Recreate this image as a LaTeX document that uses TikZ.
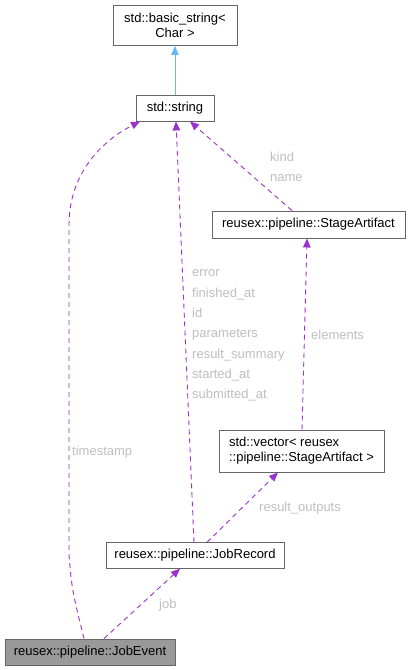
\documentclass[tikz,border=0pt]{standalone}
\usepackage{fontspec}
\setmainfont{Liberation Sans}
\usetikzlibrary{arrows.meta}
\definecolor{edgepurple}{HTML}{9A32CD}
\definecolor{edgeblue}{HTML}{63B8FF}
\definecolor{boxgray}{HTML}{666666}
\definecolor{lblgray}{HTML}{BFBFBF}
\definecolor{fillgray}{HTML}{999999}
\tikzset{
  x=1pt,y=1pt,
  cls/.style={draw=boxgray, line width=0.9pt, fill=white, inner sep=0pt,
    font=\fontsize{13}{15}\selectfont, text=black},
  dep/.style={draw=edgepurple, line width=0.9pt, dash pattern=on 5pt off 4pt,
    -{Triangle[length=9pt,width=7.5pt,fill=edgepurple]}},
  inh/.style={draw=edgeblue, line width=0.9pt,
    -{Triangle[length=9pt,width=7.5pt,fill=edgeblue]}},
  lbl/.style={anchor=west, inner sep=0pt, text=lblgray,
    font=\fontsize{13}{20.3}\selectfont, align=left},
}
\begin{document}
\begin{tikzpicture}
\useasboundingbox (0,0) rectangle (410,-670);
\fill[white] (0,0) rectangle (410,-670);
% nodes
\node[cls, minimum width=124pt, minimum height=40pt, align=center] (bs) at (175,-25.5) {std::basic\_string\textless\\Char \textgreater};
\node[cls, minimum width=78pt, minimum height=26pt] (ss) at (175,-108) {std::string};
\node[cls, minimum width=193pt, minimum height=27pt] (sa) at (308.5,-224.5) {reusex::pipeline::StageArtifact};
\node[cls, minimum width=165pt, minimum height=42pt, align=left] (vec) at (301.5,-451) {std::vector\textless{} reusex\\::pipeline::StageArtifact \textgreater};
\node[cls, minimum width=178pt, minimum height=25.5pt] (jr) at (195,-555.5) {reusex::pipeline::JobRecord};
\node[cls, fill=fillgray, minimum width=170pt, minimum height=26pt] (je) at (90,-652) {reusex::pipeline::JobEvent};
% edges
\draw[inh] (bs.south |- ss.north) -- (bs.south);
\draw[dep] ([xshift=-6pt]je.north) .. controls (72,-590) .. (69,-555) -- (69,-225) .. controls (69,-175) and (100,-142) .. ([xshift=-35pt]ss.south);
\draw[dep] ([xshift=-1pt]jr.north) -- ([xshift=1pt]ss.south);
\draw[dep] ([xshift=-16.5pt]sa.north) -- ([xshift=15pt]ss.south);
\draw[dep] ([xshift=0.5pt]vec.north) -- ([xshift=-1.5pt]sa.south);
\draw[dep] ([xshift=12pt]jr.north) -- ([xshift=-23.5pt]vec.south);
\draw[dep] ([xshift=14pt]je.north) -- ([xshift=-15pt]jr.south);
% labels
\node[lbl] (lkind) at (270,-167) {kind\\name};
\node[lbl] (lstr) at (192,-335.5) {error\\finished\_at\\id\\parameters\\result\_summary\\started\_at\\submitted\_at};
\node[lbl] (lts) at (72,-452) {timestamp};
\node[lbl] (lel) at (311,-335) {elements};
\node[lbl] (lro) at (259,-508) {result\_outputs};
\node[lbl] (ljob) at (159,-605) {job};
\end{tikzpicture}
\end{document}
